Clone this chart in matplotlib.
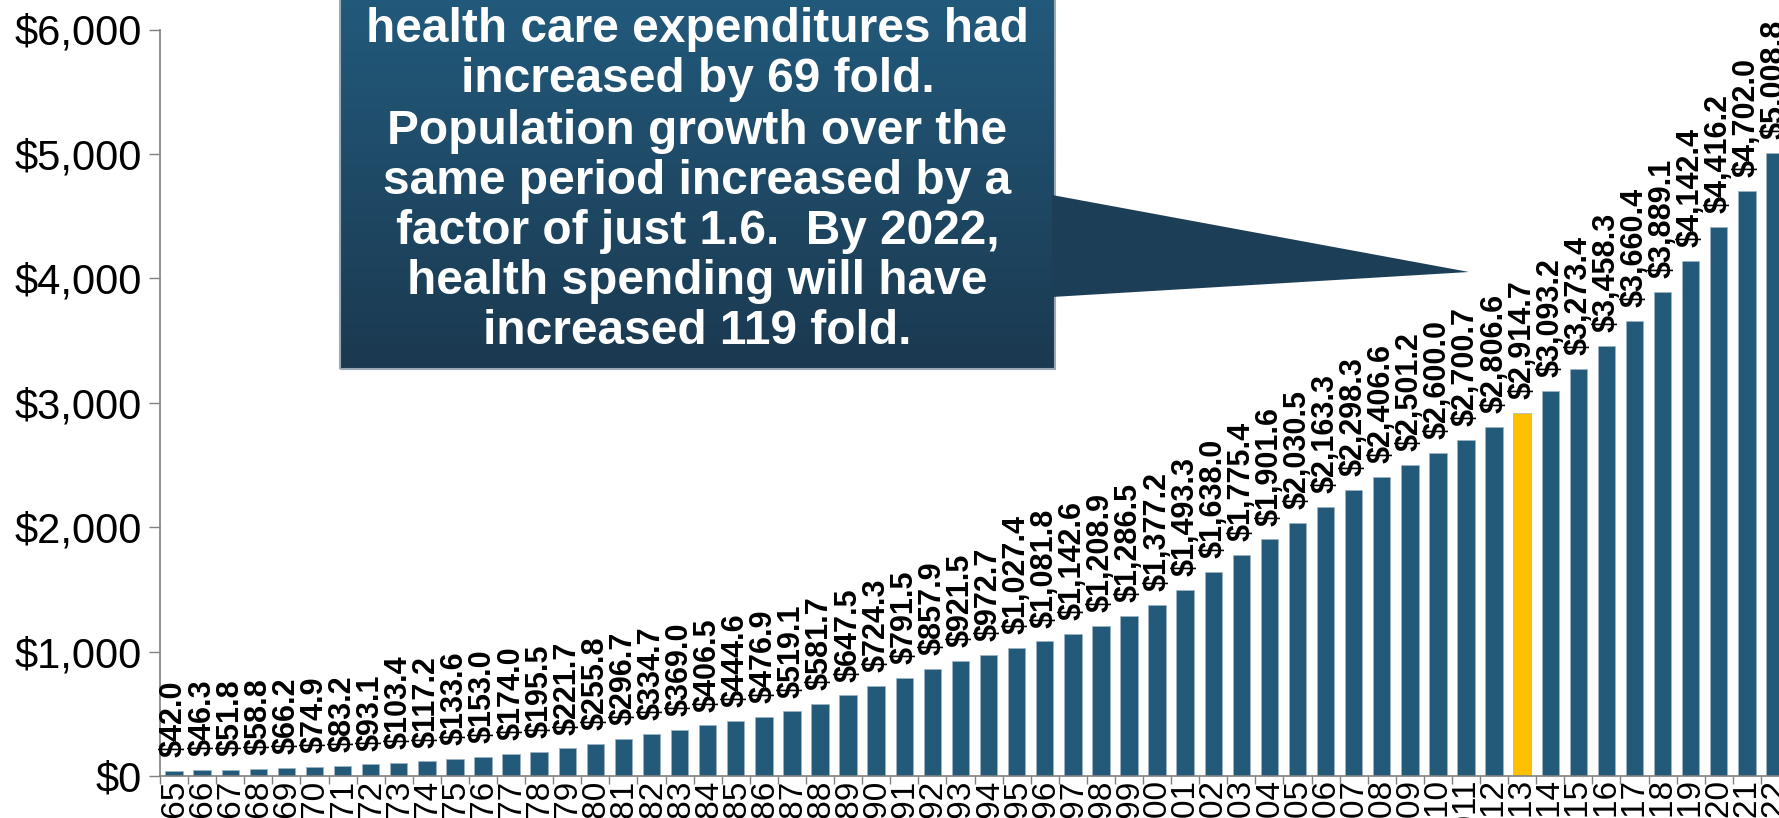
import numpy as np
import matplotlib.pyplot as plt
from matplotlib.patches import Polygon, Rectangle

plt.rcParams['font.family'] = ['Liberation Sans', 'DejaVu Sans']

# per-capita national health expenditures, 1965-2022
years = list(range(1965, 2023))
spending = [42.0, 46.3, 51.8, 58.8, 66.2, 74.9, 83.2, 93.1, 103.4, 117.2,
            133.6, 153.0, 174.0, 195.5, 221.7, 255.8, 296.7, 334.7, 369.0, 406.5,
            444.6, 476.9, 519.1, 581.7, 647.5, 724.3, 791.5, 857.9, 921.5, 972.7,
            1027.4, 1081.8, 1142.6, 1208.9, 1286.5, 1377.2, 1493.3, 1638.0, 1775.4, 1901.6,
            2030.5, 2163.3, 2298.3, 2406.6, 2501.2, 2600.0, 2700.7, 2806.6, 2914.7, 3093.2,
            3273.4, 3458.3, 3660.4, 3889.1, 4142.4, 4416.2, 4702.0, 5008.8]
highlight_year = 2013
yticks = [0, 1000, 2000, 3000, 4000, 5000, 6000]

callout_lines = ["health care expenditures had",
                 "increased by 69 fold.",
                 "Population growth over the",
                 "same period increased by a",
                 "factor of just 1.6.  By 2022,",
                 "health spending will have",
                 "increased 119 fold."]

W, H = 1779, 818
BLUE = '#235a7a'
GOLD = '#ffc000'

fig = plt.figure(figsize=(W / 100, H / 100), dpi=100)
ax = fig.add_axes([160 / W, 1 - 776 / H, 1629 / W, (776 - 29.5) / H])

x = np.arange(len(years))
colors = [GOLD if y == highlight_year else BLUE for y in years]
ax.bar(x, spending, width=0.62, color=colors, edgecolor='#9fb4c4', linewidth=0.5, zorder=2)

for xi, v in zip(x, spending):
    ax.annotate('${:,.1f}'.format(v), (xi, v), xytext=(0, 10), textcoords='offset points',
                rotation=90, ha='center', va='bottom', fontsize=22, fontweight='bold',
                color='black', zorder=3)

ax.set_xlim(-0.5, len(years) - 0.5)
ax.set_ylim(0, 6000)
ax.set_yticks(yticks)
ax.set_yticklabels(['${:,.0f}'.format(t) for t in yticks], fontsize=30)
ax.tick_params(axis='y', direction='out', length=8, width=1, color='#808080', pad=5)

ax.set_xticks(x)
ax.set_xticklabels([str(y) for y in years], rotation=90, fontsize=24)
ax.set_xticks(np.arange(-0.5, len(years)), minor=True)
ax.tick_params(axis='x', which='major', length=0, pad=2)
ax.tick_params(axis='x', which='minor', length=6, width=1, color='#808080')

for s in ['top', 'right']:
    ax.spines[s].set_visible(False)
for s in ['left', 'bottom']:
    ax.spines[s].set_color('#808080')
    ax.spines[s].set_linewidth(1.2)

# callout box with gradient fill
bx0, bx1, by0, by1 = 340, 1055, -5, 369
box_ax = fig.add_axes([bx0 / W, 1 - by1 / H, (bx1 - bx0) / W, (by1 - by0) / H], zorder=5)
top_c = np.array([34, 90, 124]) / 255
bot_c = np.array([27, 57, 80]) / 255
t = np.linspace(0, 1, 256)[:, None]
grad = top_c[None, :] * (1 - t) + bot_c[None, :] * t
box_ax.imshow(grad[:, None, :], aspect='auto', extent=[0, 1, 0, 1])
box_ax.set_xlim(0, 1)
box_ax.set_ylim(0, 1)
box_ax.axis('off')
box_ax.add_patch(Rectangle((0, 0), 1, 1, fill=False, edgecolor='#9aa9b5', linewidth=1.5,
                           transform=box_ax.transAxes, clip_on=False))

# pointer toward 2013
tri = [(1052 / W, 1 - 195 / H), (1052 / W, 1 - 297 / H), (1469 / W, 1 - 272 / H)]
fig.patches.append(Polygon(tri, closed=True, transform=fig.transFigure,
                           facecolor='#1d3e57', edgecolor='none', zorder=6))

line_y = [30, 80, 131, 181, 231, 281, 331]
for txt, ly in zip(callout_lines, line_y):
    fig.text((bx0 + bx1) / 2 / W, 1 - ly / H, txt, ha='center', va='center',
             fontsize=34.5, fontweight='bold', color='white', zorder=7)

fig.savefig('out.png', dpi=100)
